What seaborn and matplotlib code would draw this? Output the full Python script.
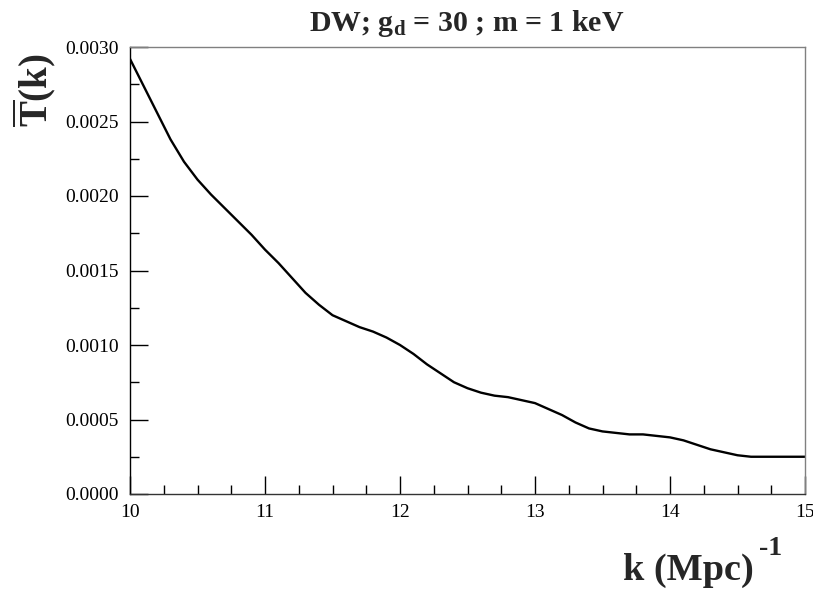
import matplotlib
matplotlib.use("Agg")
import matplotlib.pyplot as plt
from matplotlib.ticker import MultipleLocator, FormatStrFormatter
import seaborn as sns
import pandas as pd

# Wavenumber k (Mpc^-1) and averaged transfer function T(k)
k_values = [10.0, 10.1, 10.2, 10.3, 10.4, 10.5, 10.6, 10.7, 10.8, 10.9,
            11.0, 11.1, 11.2, 11.3, 11.4, 11.5, 11.6, 11.7, 11.8, 11.9,
            12.0, 12.1, 12.2, 12.3, 12.4, 12.5, 12.6, 12.7, 12.8, 12.9,
            13.0, 13.1, 13.2, 13.3, 13.4, 13.5, 13.6, 13.7, 13.8, 13.9,
            14.0, 14.1, 14.2, 14.3, 14.4, 14.5, 14.6, 14.7, 14.8, 14.9, 15.0]
t_values = [0.00292, 0.00274, 0.00256, 0.00238, 0.00223, 0.00211, 0.00201, 0.00192, 0.00183, 0.00174,
            0.00164, 0.00155, 0.00145, 0.00135, 0.00127, 0.00120, 0.00116, 0.00112, 0.00109, 0.00105,
            0.00100, 0.00094, 0.00087, 0.00081, 0.00075, 0.00071, 0.00068, 0.00066, 0.00065, 0.00063,
            0.00061, 0.00057, 0.00053, 0.00048, 0.00044, 0.00042, 0.00041, 0.00040, 0.00040, 0.00039,
            0.00038, 0.00036, 0.00033, 0.00030, 0.00028, 0.00026, 0.00025, 0.00025, 0.00025, 0.00025, 0.00025]

title_text = "DW; g$_\\mathbf{d}$ = 30 ; m = 1 keV"
ylabel_text = r"$\overline{\mathbf{T}}\mathbf{(k)}$"
xlabel_text = "k (Mpc)"
xlabel_exp = "-1"

sns.set_theme(style="white")
plt.rcParams["font.family"] = ["Liberation Serif", "DejaVu Serif"]
plt.rcParams["mathtext.fontset"] = "custom"
plt.rcParams["mathtext.rm"] = "Liberation Serif"
plt.rcParams["mathtext.bf"] = "Liberation Serif:bold"
plt.rcParams["mathtext.it"] = "Liberation Serif:italic"

df = pd.DataFrame({"k": k_values, "T": t_values})

fig = plt.figure(figsize=(8.13, 5.91), dpi=100)
ax = fig.add_axes([130 / 813, 1 - 494 / 591, 675 / 813, 447 / 591])

sns.lineplot(data=df, x="k", y="T", ax=ax, color="black", linewidth=1.7)

ax.set_xlim(10, 15)
ax.set_ylim(0, 0.003)
ax.xaxis.set_major_locator(MultipleLocator(1))
ax.xaxis.set_minor_locator(MultipleLocator(0.25))
ax.yaxis.set_major_locator(MultipleLocator(0.0005))
ax.yaxis.set_minor_locator(MultipleLocator(0.00025))
ax.xaxis.set_major_formatter(FormatStrFormatter("%d"))
ax.yaxis.set_major_formatter(FormatStrFormatter("%.4f"))

ax.tick_params(which="both", direction="in", top=False, right=False,
               left=True, bottom=True, colors="black", width=1.0)
ax.tick_params(which="major", length=13, labelsize=14, pad=7)
ax.tick_params(which="minor", length=6.5)
ax.tick_params(axis="y", which="major", pad=8)

for side in ["top", "right"]:
    ax.spines[side].set_color("#808080")
    ax.spines[side].set_linewidth(1.0)
ax.spines["left"].set_color("black")
ax.spines["bottom"].set_color("#333333")
ax.spines["left"].set_linewidth(1.0)
ax.spines["bottom"].set_linewidth(1.0)

ax.set_xlabel("")
ax.set_ylabel("")

fig.text(467 / 813, 1 - 31 / 591, title_text, ha="center", va="baseline",
         fontsize=21.5, fontweight="bold")
fig.text(34 / 813, 1 - 90 / 591, ylabel_text, ha="center", va="center",
         rotation=90, fontsize=28)
fig.text(623 / 813, 1 - 580 / 591, xlabel_text, ha="left", va="baseline",
         fontsize=27.5, fontweight="bold")
fig.text(759 / 813, 1 - 555 / 591, xlabel_exp, ha="left", va="baseline",
         fontsize=20, fontweight="bold")

fig.savefig("out.png", dpi=100)
